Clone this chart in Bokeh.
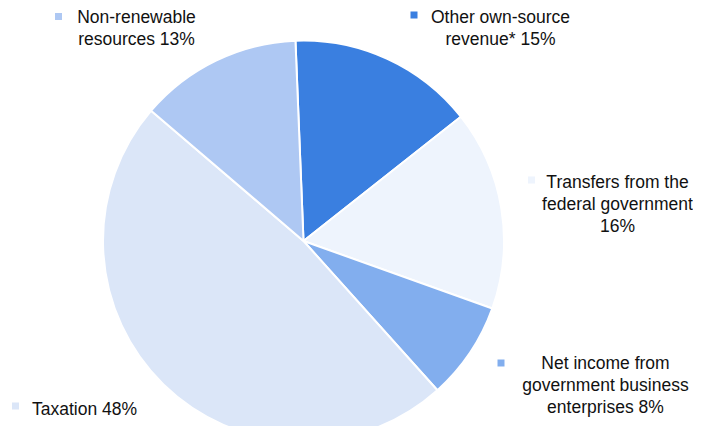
import math
from bokeh.plotting import figure
from bokeh.models import Range1d, ColumnDataSource
from bokeh.core.properties import value
from bokeh.embed import file_html
from bokeh.resources import INLINE

# ---- data (clockwise from the top) ----
categories = ["Other own-source revenue*", "Transfers from the federal government",
              "Net income from government business enterprises", "Taxation",
              "Non-renewable resources"]
shares = [15.0, 16.1, 7.9, 47.9, 13.1]
label_texts = ["Other own-source\nrevenue* 15%",
               "Transfers from the\nfederal government\n16%",
               "Net income from\ngovernment business\nenterprises 8%",
               "Taxation 48%", "Non-renewable\nresources 13%"]
colors = ["#3A7FE0", "#EEF4FD", "#82AEEE", "#DBE6F8", "#AEC8F3"]

# ---- layout (pixels of the picture) ----
W, H = 693, 426
REF_H = 442
def sy(y):  # picture y (down) -> data y (up)
    return REF_H - y

cx, cy, r = 303, 240.5, 200.5
start_deg = 92.3

total = sum(shares)
starts, ends = [], []
a = math.radians(start_deg)
for s in shares:
    span = 2 * math.pi * s / total
    starts.append(a - span)
    ends.append(a)
    a -= span

p = figure(width=W, height=H, output_backend="svg", toolbar_location=None,
           x_range=Range1d(0, W), y_range=Range1d(REF_H - H, REF_H),
           min_border=0, outline_line_color=None)
p.axis.visible = False
p.grid.visible = False
p.background_fill_color = "white"
p.border_fill_color = "white"

src = ColumnDataSource(dict(x=[cx] * 5, y=[sy(cy)] * 5, start=starts, end=ends,
                            color=colors, cat=categories))
p.wedge(x="x", y="y", radius=r, radius_units="screen", start_angle="start",
        end_angle="end", fill_color="color", line_color="white", line_width=2,
        source=src)

# label placement (picture pixels)
lab_x = [500, 617, 605, 84, 136]
lab_y = [27, 203, 384, 408, 27.5]
mk_x = [413.5, 531, 500.5, 15, 58]
mk_y = [14.5, 179.5, 362.5, 405.5, 16]

lsrc = ColumnDataSource(dict(x=lab_x, y=[sy(v) for v in lab_y], t=label_texts))
p.text(x="x", y="y", text="t", source=lsrc, text_align="center",
       text_baseline="middle", text_font=value("Liberation Sans"),
       text_font_size="17.5px", text_line_height=1.1, text_color="#111111")

msrc = ColumnDataSource(dict(x=mk_x, y=[sy(v) for v in mk_y], color=colors))
p.scatter(x="x", y="y", marker="square", size=7, fill_color="color",
          line_color=None, source=msrc)

open("out.html", "w").write(file_html(p, INLINE))
